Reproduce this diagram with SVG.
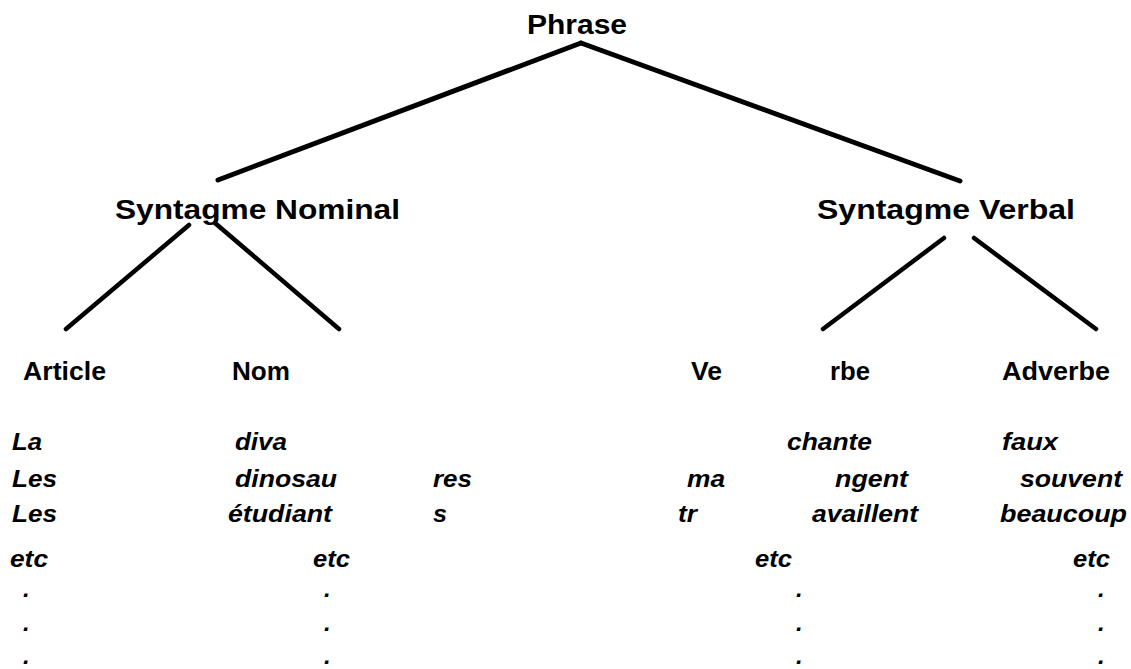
<svg xmlns="http://www.w3.org/2000/svg" width="1131" height="669" viewBox="0 0 1131 669">
<style>
  .bg { fill: #ffffff; }
  .lbl { font-family: "Liberation Sans", Arial, sans-serif; font-weight: bold; fill: #000; }
  .big { font-size: 27px; }
  .mid { font-size: 25px; }
  .it { font-family: "Liberation Sans", Arial, sans-serif; font-weight: bold; font-style: italic; font-size: 24px; fill: #000; }
  .edge { stroke: #000; stroke-width: 5; stroke-linecap: round; fill: none; }
  .edge2 { stroke: #000; stroke-width: 4.5; stroke-linecap: round; fill: none; }
</style>
<rect class="bg" x="0" y="0" width="1131" height="669"/>

<g id="connectors">
  <line class="edge" x1="581" y1="43" x2="218" y2="180"/>
  <line class="edge" x1="581" y1="43" x2="960" y2="181"/>
  <line class="edge2" x1="189" y1="225" x2="66" y2="329"/>
  <line class="edge2" x1="215" y1="223" x2="339" y2="329"/>
  <line class="edge2" x1="944" y1="238" x2="823" y2="329"/>
  <line class="edge2" x1="974" y1="238" x2="1096" y2="329"/>
</g>

<g id="node-phrase"><text class="lbl big" x="527" y="34" textLength="100" lengthAdjust="spacingAndGlyphs">Phrase</text></g>
<g id="node-sn"><text class="lbl big" x="115" y="219" textLength="285" lengthAdjust="spacingAndGlyphs">Syntagme Nominal</text></g>
<g id="node-sv"><text class="lbl big" x="817" y="219" textLength="258" lengthAdjust="spacingAndGlyphs">Syntagme Verbal</text></g>
<g id="node-article"><text class="lbl mid" x="23" y="380" textLength="83" lengthAdjust="spacingAndGlyphs">Article</text></g>
<g id="node-nom"><text class="lbl mid" x="232" y="380" textLength="58" lengthAdjust="spacingAndGlyphs">Nom</text></g>
<g id="node-verbe">
  <text class="lbl mid" x="691" y="380" textLength="31" lengthAdjust="spacingAndGlyphs">Ve</text>
  <text class="lbl mid" x="830" y="380" textLength="40" lengthAdjust="spacingAndGlyphs">rbe</text>
</g>
<g id="node-adverbe"><text class="lbl mid" x="1002" y="380" textLength="108" lengthAdjust="spacingAndGlyphs">Adverbe</text></g>

<g id="examples">
  <text class="it" x="12" y="450" textLength="30" lengthAdjust="spacingAndGlyphs">La</text>
  <text class="it" x="235" y="450" textLength="52" lengthAdjust="spacingAndGlyphs">diva</text>
  <text class="it" x="787" y="450" textLength="85" lengthAdjust="spacingAndGlyphs">chante</text>
  <text class="it" x="1002" y="450" textLength="56" lengthAdjust="spacingAndGlyphs">faux</text>

  <text class="it" x="12" y="487" textLength="45" lengthAdjust="spacingAndGlyphs">Les</text>
  <text class="it" x="235" y="487" textLength="102" lengthAdjust="spacingAndGlyphs">dinosau</text>
  <text class="it" x="433" y="487" textLength="39" lengthAdjust="spacingAndGlyphs">res</text>
  <text class="it" x="687" y="487" textLength="38" lengthAdjust="spacingAndGlyphs">ma</text>
  <text class="it" x="835" y="487" textLength="73" lengthAdjust="spacingAndGlyphs">ngent</text>
  <text class="it" x="1020" y="487" textLength="102" lengthAdjust="spacingAndGlyphs">souvent</text>

  <text class="it" x="12" y="522" textLength="45" lengthAdjust="spacingAndGlyphs">Les</text>
  <text class="it" x="228" y="522" textLength="104" lengthAdjust="spacingAndGlyphs">étudiant</text>
  <text class="it" x="433" y="522" textLength="14" lengthAdjust="spacingAndGlyphs">s</text>
  <text class="it" x="678" y="522" textLength="19" lengthAdjust="spacingAndGlyphs">tr</text>
  <text class="it" x="812" y="522" textLength="106" lengthAdjust="spacingAndGlyphs">availlent</text>
  <text class="it" x="1000" y="522" textLength="127" lengthAdjust="spacingAndGlyphs">beaucoup</text>

  <text class="it" x="10" y="567" textLength="38" lengthAdjust="spacingAndGlyphs">etc</text>
  <text class="it" x="313" y="567" textLength="37" lengthAdjust="spacingAndGlyphs">etc</text>
  <text class="it" x="755" y="567" textLength="37" lengthAdjust="spacingAndGlyphs">etc</text>
  <text class="it" x="1073" y="567" textLength="37" lengthAdjust="spacingAndGlyphs">etc</text>

  <text class="it" x="23" y="597">.</text>
  <text class="it" x="324" y="597">.</text>
  <text class="it" x="796" y="597">.</text>
  <text class="it" x="1098" y="597">.</text>
  <text class="it" x="23" y="631">.</text>
  <text class="it" x="324" y="631">.</text>
  <text class="it" x="796" y="631">.</text>
  <text class="it" x="1098" y="631">.</text>
  <text class="it" x="23" y="664">.</text>
  <text class="it" x="324" y="664">.</text>
  <text class="it" x="796" y="664">.</text>
  <text class="it" x="1098" y="664">.</text>
</g>
</svg>
